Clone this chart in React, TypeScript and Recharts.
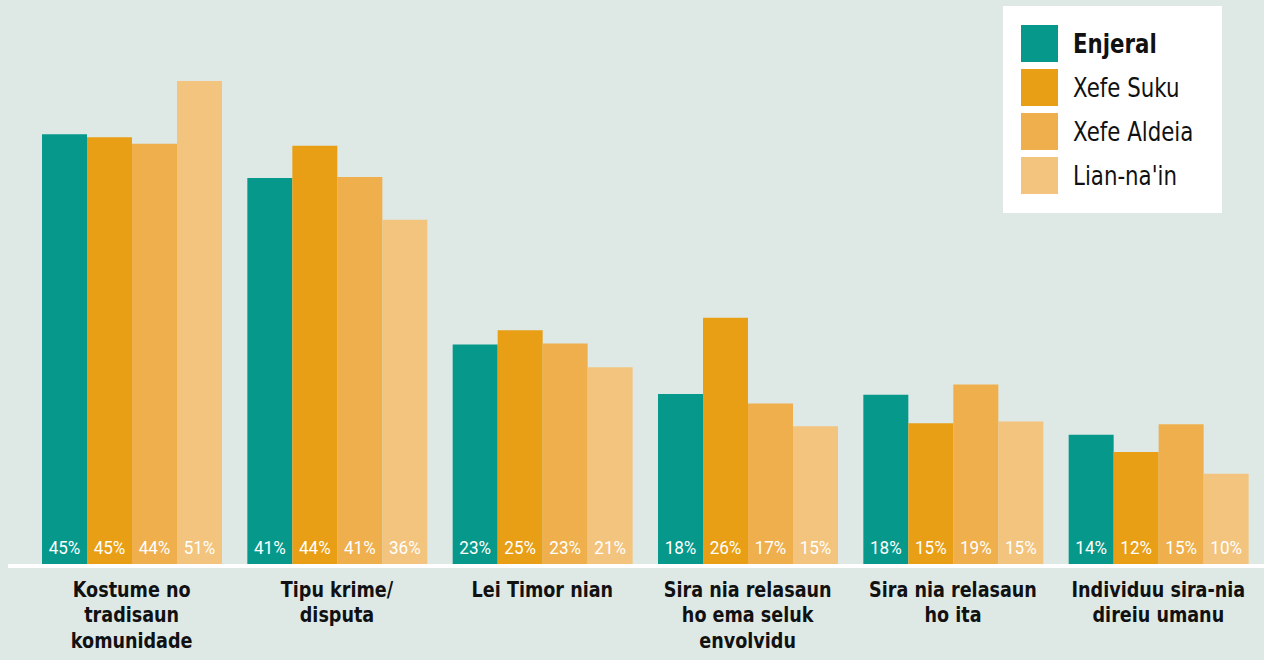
import { BarChart, Bar, XAxis, YAxis, LabelList, ReferenceLine } from 'recharts';

const BG = '#dee9e6';
const FONT = '"DejaVu Sans", sans-serif';

const categories = [
  'Kostume no\ntradisaun\nkomunidade',
  'Tipu krime/\ndisputa',
  'Lei Timor nian',
  'Sira nia relasaun\nho ema seluk\nenvolvidu',
  'Sira nia relasaun\nho ita',
  'Individuu sira-nia\ndireiu umanu',
];

const seriesNames = ['Enjeral', 'Xefe Suku', 'Xefe Aldeia', "Lian-na'in"];
const seriesKeys = ['enjeral', 'suku', 'aldeia', 'lian'];
const seriesColors = ['#06998b', '#e89e15', '#eeaf4c', '#f3c47d'];

// percentages
const enjeral = [45.4, 40.8, 23.3, 18.1, 18.0, 13.8];
const suku = [45.1, 44.2, 24.8, 26.1, 15.0, 12.0];
const aldeia = [44.4, 40.9, 23.4, 17.1, 19.1, 14.9];
const lian = [51.0, 36.4, 20.9, 14.7, 15.2, 9.7];

const data = categories.map((c, i) => ({
  cat: c,
  enjeral: enjeral[i],
  suku: suku[i],
  aldeia: aldeia[i],
  lian: lian[i],
}));

// the original uses a condensed face; squeeze DejaVu horizontally
function CategoryTick({ x, y, payload }: any) {
  const lines = String(payload.value).split('\n');
  return (
    <g transform={`translate(${x},${y}) scale(0.8,1)`}>
      <text
        x={0}
        y={0}
        textAnchor="middle"
        fontFamily={FONT}
        fontWeight={700}
        fontSize={22}
        fill="#111"
      >
        {lines.map((l, i) => (
          <tspan key={i} x={0} y={31 + i * 25.5}>
            {l}
          </tspan>
        ))}
      </text>
    </g>
  );
}

function ValueLabel({ x, y, width, height, value }: any) {
  const cx = x + width / 2;
  const cy = y + height - 12;
  return (
    <g transform={`translate(${cx},${cy}) scale(0.95,1)`}>
      <text x={0} y={0} textAnchor="middle" fontFamily="Roboto, sans-serif" fontSize={18} fill="#ffffff">
        {`${Math.round(value)}%`}
      </text>
    </g>
  );
}

function LegendBox() {
  return (
    <div
      style={{
        position: 'absolute',
        left: 1003,
        top: 6,
        background: '#ffffff',
        width: 219,
        height: 207,
        boxSizing: 'border-box',
        paddingTop: 19,
        paddingLeft: 18,
      }}
    >
      {seriesNames.map((n, i) => (
        <div key={n} style={{ display: 'flex', alignItems: 'center', height: 37, marginBottom: 7 }}>
          <div style={{ width: 37, height: 37, background: seriesColors[i], flexShrink: 0 }} />
          <span
            style={{
              marginLeft: 15,
              fontFamily: FONT,
              fontSize: 27,
              fontWeight: i === 0 ? 700 : 400,
              color: '#111',
              lineHeight: '37px',
              whiteSpace: 'nowrap',
              display: 'inline-block',
              transform: 'scaleX(0.79)',
              transformOrigin: 'left center',
            }}
          >
            {n}
          </span>
        </div>
      ))}
    </div>
  );
}

export default function App() {
  return (
    <div style={{ position: 'fixed', left: 0, top: 0, width: 1264, height: 660, background: BG }}>
      <BarChart
        width={1264}
        height={660}
        data={data}
        margin={{ top: 43, right: 0, bottom: 0, left: 8 }}
        barCategoryGap={13}
        barGap={0}
      >
        <XAxis
          dataKey="cat"
          axisLine={false}
          tickLine={false}
          tickSize={0}
          tickMargin={0}
          interval={0}
          padding={{ left: 21, right: 3 }}
          tick={<CategoryTick />}
          height={94}
        />
        <YAxis hide domain={[0, 55]} />
        {seriesKeys.map((k, i) => (
          <Bar key={k} dataKey={k} name={seriesNames[i]} fill={seriesColors[i]} isAnimationActive={false}>
            <LabelList dataKey={k} content={<ValueLabel />} />
          </Bar>
        ))}
        <ReferenceLine y={0} stroke="#ffffff" strokeWidth={4} />
      </BarChart>
      <LegendBox />
    </div>
  );
}
